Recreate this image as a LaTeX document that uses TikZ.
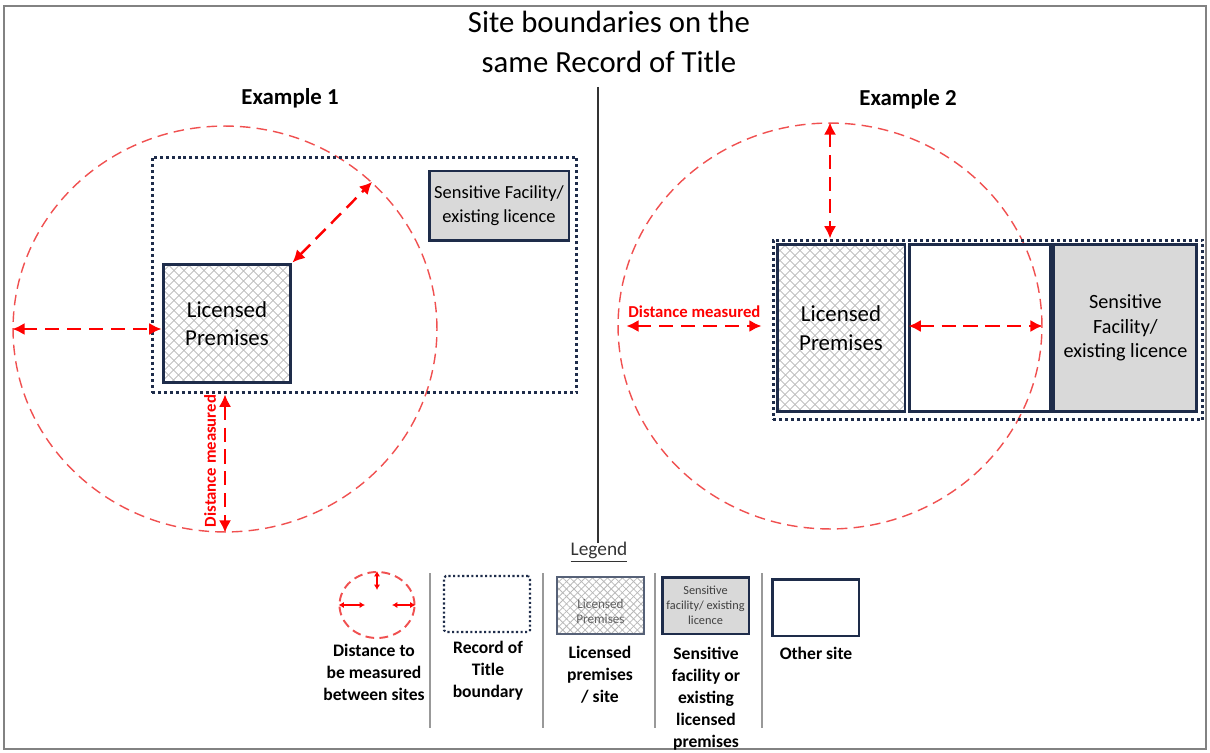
\documentclass[tikz,border=0pt]{standalone}
\usepackage{fontspec}
\setmainfont{Carlito}
\usetikzlibrary{arrows.meta,positioning,shapes.geometric,patterns.meta}
\definecolor{navy}{RGB}{30,44,74}
\definecolor{rulered}{RGB}{255,0,0}
\definecolor{ringred}{RGB}{240,80,80}
\definecolor{sfgray}{RGB}{217,217,217}
\definecolor{hatchgray}{RGB}{185,185,185}
\definecolor{framegray}{RGB}{130,130,130}
\newcommand{\fs}[2]{\fontsize{#1}{#2}\selectfont}

\begin{document}
\begin{tikzpicture}[x=0.02cm, y=-0.02cm, >=Latex,
  site/.style={draw=navy, line width=1.7pt, inner sep=2pt, align=center},
  hatch/.style={preaction={fill=white},
    preaction={pattern={Lines[angle=45,distance=#1,line width=0.45pt]}, pattern color=hatchgray},
    preaction={pattern={Lines[angle=-45,distance=#1,line width=0.45pt]}, pattern color=hatchgray}},
  hatch/.default=4pt,
  sens/.style={site, fill=sfgray},
  rot/.style={draw=navy, line width=1.7pt, dash pattern=on 1.7pt off 1.7pt},
  ring/.style={ellipse, draw=ringred, line width=0.8pt, dash pattern=on 6pt off 3.5pt, inner sep=0pt},
  meas/.style={draw=rulered, line width=1.4pt, dash pattern=on 8pt off 4.5pt,
               {Latex[length=7pt,width=7pt]}-{Latex[length=7pt,width=7pt]}},
  tipsm/.style={draw=rulered, line width=0.9pt, {Latex[length=3pt,width=3.5pt]}-{Latex[length=3pt,width=3.5pt]}},
  dist/.style={text=rulered, font=\bfseries\fs{9.5}{11}},
  legtxt/.style={align=center, anchor=north, font=\bfseries\fs{10}{12.5}, inner sep=0pt},
  sep/.style={draw=gray!80, line width=0.9pt}]
\useasboundingbox (0,0) rectangle (1210,753);
\draw[framegray, line width=1.2pt] (4,6) rectangle (1206,749);
\node[align=center, font=\fs{17.5}{22.7}] (title) at (609,42) {Site boundaries on the\\same Record of Title};
\draw[black!80, line width=0.8pt] (598,87) -- (598,543);

% example 1
\node[font=\bfseries\fs{13}{15}] (ex1) at (290,98) {Example 1};
\node[ring, minimum width=8.48cm, minimum height=8.12cm] (c1) at (225,329) {};
\node[rot, minimum width=8.5cm, minimum height=4.72cm] (rot1) at (364.5,275) {};
\node[site, hatch, minimum width=2.56cm, minimum height=2.38cm, font=\fs{13}{15.9}] (lp1) at (227,323.5) {Licensed\\Premises};
\node[sens, minimum width=2.8cm, minimum height=1.4cm, font=\fs{10.5}{13.6}] (sf1) at (499,206) {Sensitive Facility/\\existing licence};
\draw[meas] (c1.west) -- (c1.west -| lp1.west);
\draw[meas] (lp1.north east) -- (c1.45);
\draw[meas] (c1.center |- rot1.south) -- (c1.south);
\node[dist, rotate=90] (d1) at (210,461) {Distance measured};

% example 2
\node[font=\bfseries\fs{13}{15}] (ex2) at (908,99) {Example 2};
\node[ring, minimum width=8.48cm, minimum height=8.12cm] (c2) at (830,326) {};
\node[rot, minimum width=8.6cm, minimum height=3.6cm] (rot2) at (988,330) {};
\node[site, hatch, minimum width=2.56cm, minimum height=3.36cm, font=\fs{13}{16.4}] (lp2) at (841,328) {Licensed\\Premises};
\node[site, minimum width=2.82cm, minimum height=3.36cm, right=0.04cm of lp2] (os2) {};
\node[sens, minimum width=2.86cm, minimum height=3.36cm, right=0pt of os2, font=\fs{11.5}{14}] (sf2) {Sensitive\\Facility/\\existing licence};
\draw[meas] (c2.north) -- (c2.north |- rot2.north);
\draw[meas, shorten <=0.18cm, shorten >=0.2cm] (c2.west) -- (c2.west -| rot2.west)
  node[dist, midway, above=1pt] (d2) {Distance measured};
\draw[meas] (os2.west |- c2.east) -- (c2.east);

% legend
\node[font=\fs{11}{13}, text=black!80] (leg) at (599,552) {\underline{Legend}};
\node[ring, minimum width=1.5cm, minimum height=1.32cm, line width=1.1pt, dash pattern=on 5pt off 3pt] (kc) at (377,605) {};
\coordinate (kv) at (377,590);
\coordinate (kw) at (365,605);
\coordinate (ke) at (392,605);
\draw[tipsm] (kc.north) -- (kv);
\draw[tipsm] (kc.west) -- (kw);
\draw[tipsm] (ke) -- (kc.east);
\node[draw=navy, line width=1.2pt, dash pattern=on 1.2pt off 1.4pt, rounded corners=1pt,
      minimum width=1.72cm, minimum height=1.12cm] (kr) at (487,604) {};
\node[hatch=3pt, draw=navy!75, line width=1pt, minimum width=1.74cm, minimum height=1.14cm] (kl) at (600.5,605.5) {};
\node[align=center, text=black!62, font=\fs{7.5}{9}] (klt) at ([yshift=-0.12cm]kl.center) {Licensed\\Premises};
\node[sens, minimum width=1.74cm, minimum height=1.14cm, text=black!75, font=\fs{7}{8.5}, inner sep=1pt] (ks) at (705.5,605.5) {Sensitive\\facility/ existing\\licence};
\node[site, minimum width=1.74cm, minimum height=1.14cm] (ko) at (815.5,607.5) {};
\foreach \x in {430,543,655,762}
  \draw[sep] (\x,573) -- (\x,728);
\node[legtxt] (t1) at (374,644) {Distance to\\be measured\\between sites};
\node[legtxt] (t2) at (488,641) {Record of\\Title\\boundary};
\node[legtxt] (t3) at (600,646) {Licensed\\premises\\/ site};
\node[legtxt] (t4) at (706,647) {Sensitive\\facility or\\existing\\licensed\\premises};
\node[legtxt] (t5) at (816,647) {Other site};
\end{tikzpicture}
\end{document}
